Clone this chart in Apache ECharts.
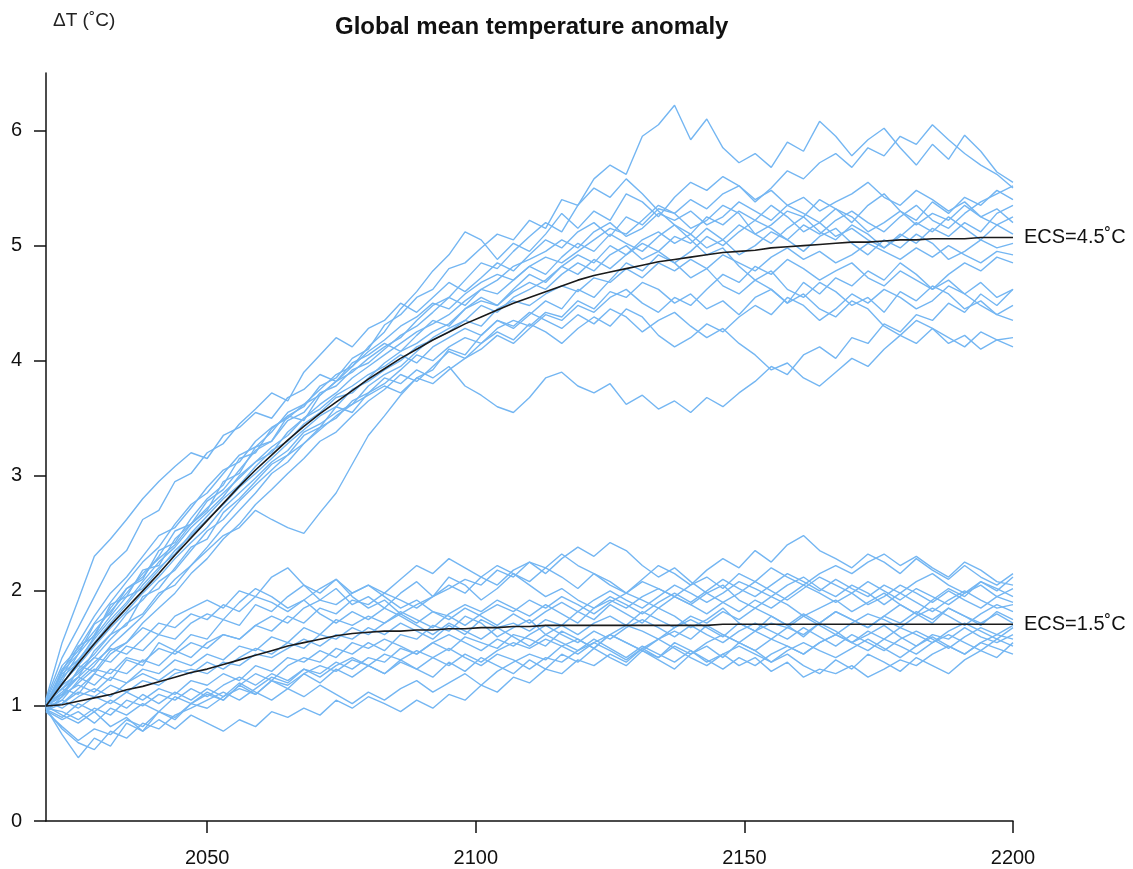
<!DOCTYPE html>
<html>
<head>
<meta charset="utf-8" />
<script src="https://cdn.jsdelivr.net/npm/echarts@6/dist/echarts.min.js"></script>
</head>
<body style="margin:0">
<div id="main" style="width:1133px;height:869px"></div>
<script type="text/javascript">
// years sampled every 3 years
var years = [2020,2023,2026,2029,2032,2035,2038,2041,2044,2047,
  2050,2053,2056,2059,2062,2065,2068,2071,2074,2077,
  2080,2083,2086,2089,2092,2095,2098,2101,2104,2107,
  2110,2113,2116,2119,2122,2125,2128,2131,2134,2137,
  2140,2143,2146,2149,2152,2155,2158,2161,2164,2167,
  2170,2173,2176,2179,2182,2185,2188,2191,2194,2197,2200];

var xTicks = [2050, 2100, 2150, 2200];
var yTicks = [0, 1, 2, 3, 4, 5, 6];

// black mean curves
var ecs45Mean = [1.00,1.19,1.37,1.54,1.70,1.85,2.00,2.15,2.31,2.46,
  2.61,2.76,2.91,3.05,3.18,3.31,3.43,3.54,3.64,3.74,
  3.84,3.93,4.02,4.10,4.18,4.25,4.32,4.38,4.44,4.50,
  4.55,4.60,4.65,4.70,4.74,4.77,4.80,4.83,4.86,4.88,
  4.90,4.92,4.94,4.95,4.96,4.98,4.99,5.00,5.01,5.02,
  5.03,5.03,5.04,5.05,5.05,5.06,5.06,5.06,5.07,5.07,5.07];

var ecs15Mean = [1.00,1.01,1.04,1.07,1.10,1.14,1.17,1.21,1.25,1.29,
  1.32,1.36,1.40,1.44,1.48,1.52,1.55,1.58,1.61,1.63,
  1.64,1.65,1.65,1.66,1.66,1.67,1.67,1.68,1.68,1.69,
  1.69,1.70,1.70,1.70,1.70,1.70,1.70,1.70,1.70,1.70,
  1.70,1.70,1.71,1.71,1.71,1.71,1.71,1.71,1.71,1.71,
  1.71,1.71,1.71,1.71,1.71,1.71,1.71,1.71,1.71,1.71,1.71];

// individual runs, ECS = 4.5
var ecs45Runs = [
  [1.02,1.30,1.45,1.71,1.80,2.02,2.10,2.35,2.42,2.63, 2.80,2.92,3.15,3.20,3.41,3.52,3.60,3.78,3.85,4.02,
   4.10,4.31,4.40,4.55,4.62,4.80,4.85,4.98,5.10,5.05, 5.22,5.15,5.40,5.35,5.58,5.70,5.62,5.95,6.05,6.22,
   5.92,6.10,5.85,5.72,5.80,5.68,5.90,5.82,6.08,5.95, 5.78,5.92,6.02,5.85,5.70,5.88,5.75,5.96,5.82,5.64,5.55],
  [0.98,1.25,1.52,1.60,1.88,1.95,2.18,2.22,2.45,2.58, 2.70,2.95,3.02,3.25,3.30,3.52,3.48,3.70,3.82,3.95,
   4.12,4.25,4.45,4.60,4.78,4.92,5.12,5.05,4.88,5.02, 4.95,5.10,5.28,5.15,5.30,5.22,5.45,5.38,5.25,5.42,
   5.55,5.48,5.60,5.52,5.38,5.50,5.65,5.58,5.72,5.80, 5.68,5.85,5.78,5.95,5.88,6.05,5.92,5.80,5.70,5.62,5.50],
  [1.00,1.10,1.25,1.48,1.62,1.70,1.95,2.02,2.20,2.38, 2.45,2.68,2.80,2.95,3.10,3.18,3.35,3.42,3.60,3.55,
   3.72,3.85,3.80,3.92,3.85,3.95,3.78,3.70,3.60,3.55, 3.68,3.85,3.90,3.78,3.72,3.80,3.62,3.70,3.58,3.65,
   3.55,3.68,3.60,3.72,3.82,3.95,3.88,4.05,4.12,4.02, 4.20,4.15,4.32,4.25,4.40,4.35,4.50,4.42,4.58,4.48,4.62],
  [1.02,1.15,1.30,1.42,1.58,1.72,1.80,1.98,2.05,2.22, 2.35,2.48,2.55,2.70,2.62,2.55,2.50,2.68,2.85,3.10,
   3.35,3.52,3.70,3.85,3.92,4.10,4.05,4.22,4.35,4.28, 4.40,4.52,4.45,4.62,4.55,4.70,4.85,4.78,4.92,4.85,
   4.72,4.80,4.65,4.58,4.70,4.62,4.50,4.58,4.45,4.38, 4.52,4.45,4.30,4.22,4.35,4.28,4.15,4.22,4.10,4.18,4.12],
  [1.05,1.42,1.68,1.95,2.22,2.35,2.62,2.70,2.95,3.02, 3.20,3.28,3.45,3.58,3.72,3.65,3.90,4.05,4.20,4.12,
   4.28,4.35,4.50,4.42,4.55,4.68,4.60,4.72,4.85,4.78, 4.92,5.05,4.98,5.12,5.20,5.08,5.25,5.18,5.32,5.28,
   5.15,5.22,5.35,5.28,5.10,5.18,5.30,5.25,5.40,5.32, 5.20,5.35,5.45,5.30,5.22,5.38,5.28,5.42,5.35,5.48,5.40],
  [0.95,1.08,1.32,1.45,1.62,1.80,1.92,2.08,2.18,2.35, 2.52,2.62,2.78,2.92,3.05,3.18,3.28,3.42,3.50,3.65,
   3.72,3.80,3.92,4.05,4.00,4.12,4.20,4.15,4.28,4.35, 4.30,4.42,4.38,4.52,4.45,4.60,4.55,4.68,4.62,4.50,
   4.58,4.45,4.52,4.40,4.55,4.62,4.50,4.68,4.58,4.72, 4.65,4.78,4.70,4.85,4.75,4.62,4.70,4.58,4.68,4.55,4.62],
  [1.00,1.22,1.45,1.62,1.85,2.02,2.12,2.30,2.52,2.58, 2.78,2.88,3.05,3.22,3.30,3.48,3.55,3.72,3.78,3.92,
   3.98,4.10,4.22,4.30,4.42,4.55,4.48,4.62,4.70,4.82, 4.88,4.95,5.05,4.98,5.12,5.20,5.08,5.15,5.28,5.22,
   5.30,5.18,5.25,5.38,5.30,5.22,5.35,5.28,5.20,5.32, 5.25,5.12,5.20,5.30,5.18,5.28,5.22,5.35,5.25,5.18,5.25],
  [1.00,1.28,1.40,1.58,1.75,1.90,2.08,2.25,2.38,2.55, 2.68,2.82,3.00,3.12,3.25,3.35,3.50,3.58,3.70,3.78,
   3.88,3.95,4.05,3.98,4.12,4.20,4.28,4.22,4.35,4.30, 4.42,4.35,4.28,4.40,4.32,4.45,4.38,4.25,4.35,4.42,
   4.30,4.20,4.28,4.15,4.05,3.92,3.98,3.85,3.78,3.90, 4.02,3.95,4.10,4.22,4.15,4.28,4.20,4.12,4.25,4.18,4.20],
  [1.03,1.18,1.40,1.55,1.72,1.88,2.05,2.20,2.32,2.50, 2.65,2.80,2.92,3.08,3.22,3.30,3.45,3.55,3.68,3.72,
   3.85,3.98,4.08,4.15,4.25,4.32,4.45,4.52,4.48,4.60, 4.68,4.62,4.75,4.85,4.78,4.92,5.00,4.88,4.95,5.08,
   5.02,5.15,5.05,4.92,5.00,5.12,5.05,4.95,5.08,5.15, 5.02,4.92,5.05,4.98,5.10,5.02,4.88,4.95,5.05,4.98,5.02],
  [0.98,1.30,1.55,1.78,1.98,2.12,2.30,2.48,2.55,2.72, 2.90,3.05,3.12,3.30,3.42,3.50,3.62,3.70,3.82,3.90,
   4.02,4.12,4.20,4.35,4.48,4.55,4.70,4.85,4.80,4.95, 5.08,5.20,5.12,5.35,5.50,5.42,5.58,5.45,5.30,5.18,
   5.05,4.92,4.98,4.82,4.70,4.78,4.62,4.55,4.68,4.60, 4.48,4.55,4.42,4.60,4.52,4.65,4.58,4.45,4.52,4.40,4.48],
  [0.97,1.05,1.22,1.35,1.52,1.65,1.78,1.95,2.10,2.22, 2.38,2.55,2.70,2.85,3.02,3.12,3.28,3.40,3.52,3.62,
   3.78,3.88,3.95,4.08,4.20,4.28,4.35,4.48,4.42,4.55, 4.62,4.70,4.82,4.75,4.88,4.80,4.92,5.02,4.95,4.85,
   4.95,5.08,5.00,5.12,5.22,5.15,5.05,5.18,5.10,5.22, 5.30,5.20,5.12,5.25,5.35,5.22,5.15,5.28,5.38,5.45,5.52],
  [1.01,1.20,1.35,1.52,1.68,1.82,1.98,2.12,2.28,2.42, 2.55,2.72,2.85,2.98,3.12,3.22,3.38,3.45,3.55,3.62,
   3.70,3.78,3.72,3.85,3.80,3.92,4.02,4.10,4.22,4.15, 4.28,4.40,4.35,4.48,4.42,4.55,4.62,4.50,4.42,4.55,
   4.48,4.62,4.75,4.68,4.82,4.75,4.88,4.80,4.70,4.78, 4.85,4.72,4.65,4.78,4.70,4.62,4.75,4.85,4.78,4.90,4.85],
  [1.04,1.35,1.50,1.72,1.90,2.08,2.25,2.38,2.58,2.75, 2.85,3.02,3.18,3.25,3.38,3.55,3.62,3.75,3.88,3.95,
   4.08,4.18,4.30,4.38,4.50,4.45,4.58,4.68,4.75,4.70, 4.82,4.90,4.85,4.95,5.05,5.15,5.10,5.22,5.35,5.28,
   5.40,5.32,5.45,5.52,5.40,5.48,5.35,5.42,5.30,5.38, 5.45,5.55,5.42,5.35,5.48,5.40,5.30,5.38,5.25,5.32,5.20],
  [0.99,1.25,1.38,1.60,1.78,1.95,2.02,2.18,2.35,2.48, 2.62,2.75,2.90,3.02,3.15,3.28,3.40,3.52,3.60,3.75,
   3.82,3.92,4.00,4.12,4.18,4.25,4.35,4.30,4.45,4.52, 4.48,4.58,4.65,4.60,4.72,4.68,4.80,4.72,4.85,4.78,
   4.88,4.80,4.92,4.85,4.78,4.90,4.98,4.88,4.95,4.85, 4.92,5.02,4.95,4.88,4.98,4.90,5.00,4.92,4.85,4.95,4.92],
  [1.06,1.55,1.92,2.30,2.45,2.62,2.80,2.95,3.08,3.20, 3.15,3.35,3.42,3.55,3.50,3.68,3.75,3.88,3.82,3.98,
   4.05,4.15,4.08,4.22,4.35,4.30,4.45,4.55,4.48,4.62, 4.75,4.68,4.82,4.92,4.85,5.00,4.92,5.05,5.12,5.02,
   5.10,4.98,5.05,5.18,5.10,5.02,5.15,5.25,5.12,5.05, 5.18,5.10,4.98,5.08,5.20,5.12,5.25,5.15,5.05,5.18,5.10],
  [0.96,1.02,1.15,1.28,1.45,1.55,1.72,1.85,1.98,2.15, 2.28,2.45,2.58,2.75,2.88,3.02,3.15,3.30,3.38,3.52,
   3.65,3.75,3.88,3.82,3.95,4.08,4.02,4.15,4.25,4.18, 4.32,4.25,4.15,4.28,4.38,4.30,4.45,4.38,4.22,4.12,
   4.20,4.32,4.25,4.38,4.48,4.40,4.55,4.48,4.35,4.45, 4.58,4.50,4.62,4.55,4.45,4.52,4.65,4.58,4.48,4.40,4.35],
  [1.00,1.32,1.48,1.65,1.82,1.98,2.15,2.28,2.40,2.58, 2.72,2.85,2.98,3.12,3.20,3.38,3.50,3.62,3.72,3.85,
   3.95,4.05,4.15,4.25,4.32,4.40,4.52,4.62,4.58,4.70, 4.82,4.75,4.90,5.02,4.95,5.10,5.02,4.95,5.08,5.18,
   5.10,5.25,5.18,5.30,5.22,5.35,5.25,5.12,5.20,5.08, 5.15,5.05,4.98,5.10,5.02,5.15,5.08,5.20,5.12,5.28,5.35]
];

// individual runs, ECS = 1.5
var ecs15Runs = [
  [1.02,1.15,1.10,1.28,1.22,1.40,1.35,1.55,1.48,1.62, 1.58,1.75,1.70,1.88,1.82,1.95,2.05,1.92,2.02,1.88,
   1.95,1.85,1.98,2.08,1.95,2.12,2.05,1.92,2.02,2.15, 2.08,2.20,2.12,2.02,2.15,2.08,1.98,2.10,2.22,2.15,
   2.05,2.18,2.28,2.20,2.35,2.25,2.40,2.48,2.35,2.28, 2.20,2.32,2.25,2.15,2.28,2.18,2.10,2.22,2.12,2.05,2.15],
  [0.98,0.75,0.55,0.72,0.65,0.85,0.78,0.95,0.88,1.02, 1.10,1.05,1.18,1.28,1.22,1.35,1.42,1.38,1.50,1.45,
   1.55,1.48,1.62,1.58,1.70,1.65,1.78,1.72,1.60,1.68, 1.75,1.62,1.70,1.82,1.75,1.88,1.80,1.72,1.85,1.78,
   1.68,1.75,1.85,1.72,1.65,1.78,1.70,1.60,1.72,1.82, 1.75,1.68,1.78,1.88,1.80,1.72,1.85,1.78,1.70,1.82,1.75],
  [1.00,0.92,0.85,0.95,0.82,0.90,0.78,0.88,0.80,0.92, 0.85,0.78,0.88,0.82,0.95,0.90,0.98,0.92,1.05,0.98,
   1.08,1.02,0.95,1.05,0.98,1.10,1.05,1.18,1.12,1.25, 1.20,1.32,1.28,1.40,1.35,1.45,1.38,1.50,1.42,1.55,
   1.48,1.38,1.45,1.35,1.42,1.30,1.38,1.25,1.32,1.28, 1.35,1.25,1.32,1.40,1.35,1.45,1.52,1.45,1.55,1.50,1.45],
  [1.05,1.20,1.35,1.30,1.48,1.55,1.68,1.62,1.78,1.85, 1.92,1.85,2.00,1.95,2.12,2.20,2.05,1.98,2.10,1.95,
   1.85,1.92,1.80,1.88,1.95,2.05,1.98,2.12,2.05,2.18, 2.25,2.15,2.28,2.38,2.30,2.42,2.35,2.22,2.12,2.20,
   2.08,1.98,2.05,1.92,1.85,1.95,1.88,1.78,1.85,1.92, 1.82,1.90,1.98,1.88,1.80,1.92,2.02,1.95,2.08,2.00,2.12],
  [0.96,0.88,0.95,0.85,0.98,0.92,1.02,0.95,1.08,1.02, 1.12,1.05,1.18,1.10,1.22,1.15,1.28,1.20,1.32,1.25,
   1.35,1.28,1.40,1.32,1.25,1.38,1.30,1.42,1.35,1.28, 1.40,1.32,1.45,1.38,1.50,1.42,1.35,1.48,1.40,1.32,
   1.45,1.52,1.42,1.55,1.48,1.38,1.45,1.35,1.28,1.40, 1.32,1.45,1.38,1.30,1.42,1.35,1.28,1.40,1.48,1.42,1.55],
  [1.03,1.10,1.18,1.12,1.25,1.20,1.32,1.28,1.40,1.35, 1.45,1.40,1.52,1.48,1.60,1.55,1.68,1.62,1.75,1.70,
   1.78,1.72,1.82,1.75,1.68,1.80,1.88,1.82,1.92,1.85, 1.78,1.88,1.80,1.72,1.85,1.92,1.85,1.95,2.02,1.95,
   1.88,1.98,1.90,1.82,1.92,1.85,1.95,2.05,1.98,1.90, 1.98,2.08,2.00,1.92,2.02,1.95,1.88,1.98,2.05,1.95,2.02],
  [0.99,1.05,0.98,1.08,1.02,1.12,1.05,1.15,1.10,1.22, 1.18,1.28,1.22,1.35,1.30,1.42,1.38,1.48,1.42,1.55,
   1.50,1.58,1.52,1.45,1.55,1.48,1.60,1.55,1.50,1.62, 1.58,1.52,1.65,1.58,1.50,1.62,1.70,1.65,1.58,1.68,
   1.75,1.68,1.60,1.72,1.65,1.58,1.68,1.62,1.72,1.65, 1.55,1.62,1.70,1.60,1.52,1.62,1.58,1.68,1.60,1.55,1.62],
  [1.01,1.12,1.25,1.18,1.32,1.28,1.40,1.35,1.48,1.42, 1.55,1.62,1.58,1.70,1.65,1.78,1.72,1.85,1.80,1.92,
   1.88,1.98,1.92,1.85,1.95,2.02,2.10,2.05,2.18,2.12, 2.25,2.20,2.32,2.22,2.15,2.05,1.98,2.08,2.02,1.95,
   2.05,2.12,2.02,2.15,2.08,2.20,2.12,2.05,2.15,2.22, 2.15,2.25,2.32,2.22,2.30,2.20,2.12,2.25,2.18,2.08,2.05],
  [0.97,0.90,1.02,0.95,1.05,0.98,1.10,1.02,1.12,1.05, 1.15,1.08,1.20,1.12,1.05,1.15,1.08,1.18,1.10,1.02,
   1.12,1.05,1.15,1.22,1.12,1.20,1.28,1.18,1.30,1.38, 1.45,1.40,1.52,1.58,1.50,1.62,1.55,1.48,1.58,1.65,
   1.58,1.70,1.62,1.55,1.65,1.72,1.68,1.78,1.70,1.62, 1.72,1.80,1.75,1.68,1.78,1.85,1.78,1.70,1.80,1.88,1.82],
  [1.00,1.02,1.12,1.08,1.18,1.12,1.22,1.18,1.28,1.32, 1.28,1.38,1.35,1.45,1.42,1.50,1.58,1.52,1.62,1.58,
   1.68,1.62,1.72,1.65,1.58,1.70,1.62,1.75,1.68,1.72, 1.65,1.75,1.70,1.62,1.72,1.78,1.70,1.82,1.75,1.68,
   1.78,1.72,1.82,1.75,1.85,1.78,1.70,1.80,1.72,1.82, 1.75,1.68,1.78,1.72,1.82,1.75,1.85,1.78,1.72,1.80,1.72],
  [1.02,1.18,1.28,1.42,1.38,1.52,1.48,1.62,1.58,1.72, 1.80,1.75,1.90,2.02,1.95,1.85,1.92,1.80,1.72,1.82,
   1.75,1.85,1.78,1.70,1.62,1.72,1.65,1.58,1.68,1.60, 1.52,1.62,1.55,1.48,1.58,1.50,1.42,1.52,1.45,1.38,
   1.48,1.40,1.32,1.42,1.35,1.45,1.52,1.45,1.55,1.62, 1.55,1.65,1.58,1.68,1.62,1.55,1.65,1.72,1.65,1.58,1.68],
  [1.04,0.98,1.08,1.15,1.08,1.20,1.28,1.22,1.32,1.28, 1.38,1.32,1.42,1.50,1.45,1.55,1.50,1.62,1.58,1.68,
   1.62,1.72,1.80,1.72,1.82,1.78,1.70,1.80,1.88,1.82, 1.92,1.85,1.95,1.88,1.80,1.90,1.98,1.92,1.85,1.95,
   1.88,1.80,1.90,1.98,2.08,2.00,1.92,2.02,2.12,2.05, 1.98,1.88,1.95,2.05,1.98,1.90,2.00,1.92,1.85,1.95,1.90],
  [0.95,0.82,0.70,0.80,0.75,0.88,0.82,0.95,0.90,1.02, 0.98,1.08,1.15,1.10,1.22,1.18,1.28,1.35,1.30,1.40,
   1.35,1.45,1.40,1.48,1.42,1.35,1.45,1.38,1.48,1.55, 1.50,1.58,1.52,1.45,1.55,1.62,1.55,1.48,1.42,1.52,
   1.45,1.55,1.62,1.55,1.48,1.58,1.52,1.45,1.55,1.62, 1.55,1.48,1.58,1.52,1.45,1.55,1.62,1.55,1.48,1.58,1.52],
  [1.00,1.08,1.20,1.32,1.28,1.42,1.38,1.50,1.45,1.55, 1.50,1.62,1.58,1.70,1.78,1.72,1.85,1.92,1.88,1.98,
   2.05,1.98,2.10,2.22,2.15,2.28,2.20,2.12,2.22,2.15, 2.05,1.95,2.02,1.92,1.85,1.95,1.88,1.80,1.90,1.98,
   1.90,2.00,2.10,2.02,1.95,2.05,2.15,2.08,2.00,2.10, 2.02,1.95,2.05,1.98,2.08,2.15,2.05,1.98,2.08,2.02,1.95],
  [0.97,0.80,0.68,0.62,0.78,0.72,0.85,0.80,0.92,0.98, 1.05,1.12,1.05,1.15,1.25,1.20,1.32,1.28,1.38,1.32,
   1.42,1.38,1.50,1.45,1.55,1.62,1.55,1.48,1.58,1.52, 1.62,1.70,1.62,1.55,1.65,1.58,1.68,1.75,1.68,1.60,
   1.70,1.62,1.55,1.65,1.72,1.65,1.58,1.68,1.60,1.52, 1.62,1.55,1.48,1.58,1.65,1.58,1.50,1.60,1.68,1.62,1.70],
  [1.03,1.15,1.25,1.38,1.50,1.45,1.58,1.72,1.68,1.80, 1.75,1.88,1.82,1.95,1.90,1.82,1.92,2.02,2.10,1.98,
   2.05,1.95,1.85,1.92,1.82,1.75,1.85,1.78,1.70,1.80, 1.72,1.82,1.90,1.82,1.92,2.00,1.92,1.85,1.95,2.05,
   1.98,1.90,1.98,2.08,2.02,1.95,2.05,2.12,2.02,1.95, 2.05,1.98,1.88,1.98,1.90,1.82,1.92,2.00,1.92,1.85,1.88],
  [0.98,0.95,0.88,0.98,0.92,1.05,1.00,1.10,1.05,1.15, 1.08,1.18,1.25,1.18,1.28,1.22,1.32,1.25,1.35,1.42,
   1.35,1.28,1.38,1.32,1.42,1.50,1.42,1.35,1.45,1.40, 1.32,1.42,1.38,1.48,1.55,1.48,1.40,1.50,1.58,1.50,
   1.42,1.35,1.45,1.52,1.45,1.38,1.48,1.55,1.48,1.42, 1.50,1.58,1.50,1.42,1.52,1.60,1.52,1.45,1.55,1.62,1.58]
];

var runColor = '#74b6f2';
var meanColor = '#1a1a1a';
var font = 'Liberation Sans';

var myChart = echarts.init(document.getElementById('main'));

function pairs(vals) {
  return years.map(function (y, i) { return [y, vals[i]]; });
}

var series = [];
ecs15Runs.concat(ecs45Runs).forEach(function (run) {
  series.push({
    type: 'line',
    data: pairs(run),
    showSymbol: false,
    silent: true,
    lineStyle: { color: runColor, width: 1.4 },
    z: 2
  });
});
[[ecs45Mean, 'ECS=4.5˚C'], [ecs15Mean, 'ECS=1.5˚C']].forEach(function (m) {
  series.push({
    type: 'line',
    data: pairs(m[0]),
    showSymbol: false,
    silent: true,
    lineStyle: { color: meanColor, width: 1.6 },
    z: 5,
    endLabel: {
      show: true,
      formatter: m[1],
      distance: 11,
      color: '#111',
      fontSize: 20,
      fontFamily: font
    }
  });
});

myChart.setOption({
  animation: false,
  backgroundColor: '#fff',
  textStyle: { fontFamily: font },
  title: [
    {
      text: 'Global mean temperature anomaly',
      left: 330,
      top: 10,
      textStyle: { fontSize: 24, fontWeight: 'bold', color: '#111', fontFamily: font }
    },
    {
      text: 'ΔT (˚C)',
      left: 48,
      top: 6,
      textStyle: { fontSize: 19, fontWeight: 'normal', color: '#222', fontFamily: font }
    }
  ],
  grid: { left: 46, right: 120, top: 73, bottom: 48, containLabel: false },
  xAxis: {
    type: 'value',
    min: 2020,
    max: 2200,
    splitLine: { show: false },
    axisLine: { lineStyle: { color: '#111', width: 1.5 } },
    axisTick: { customValues: xTicks, length: 12, lineStyle: { color: '#111', width: 1.5 } },
    axisLabel: {
      customValues: xTicks, color: '#111', fontSize: 20, margin: 27,
      formatter: function (v) { return String(v); }
    }
  },
  yAxis: {
    type: 'value',
    min: 0,
    max: 6.5,
    splitLine: { show: false },
    axisLine: { show: true, lineStyle: { color: '#111', width: 1.5 } },
    axisTick: { show: true, customValues: yTicks, length: 12, lineStyle: { color: '#111', width: 1.5 } },
    axisLabel: { customValues: yTicks, color: '#111', fontSize: 20, margin: 24 }
  },
  series: series
});
</script>
</body>
</html>
